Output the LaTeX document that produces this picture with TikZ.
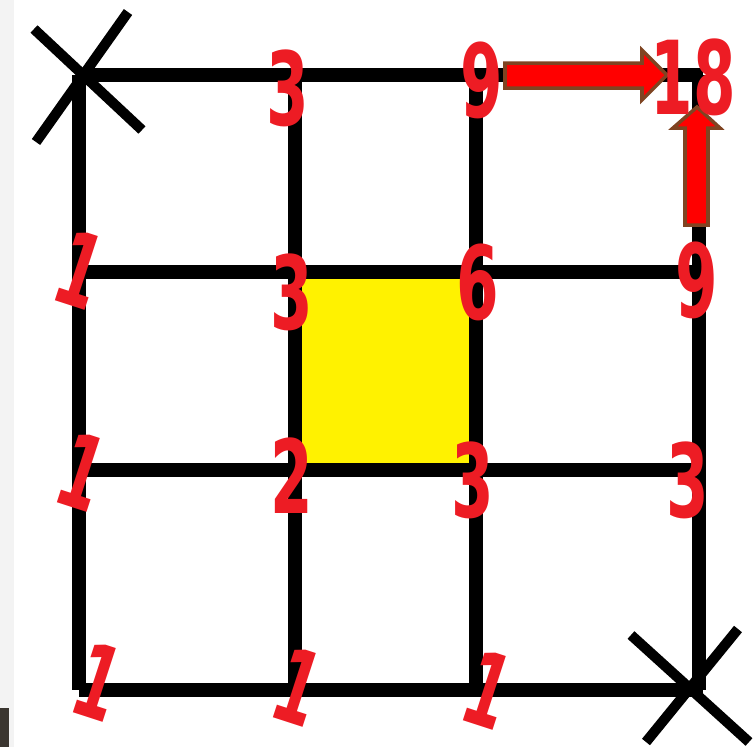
\documentclass[tikz,border=0pt]{standalone}
\usepackage{fontspec}
\usepackage{graphicx}
\usetikzlibrary{calc}
\setmainfont{DejaVu Sans}
\definecolor{paintred}{HTML}{ED1C24}
\definecolor{arrowred}{HTML}{FF0000}
\definecolor{arrowbrown}{HTML}{7F4422}
\definecolor{cellyellow}{HTML}{FFF200}
\definecolor{edgegray}{HTML}{F3F3F3}
\definecolor{edgedark}{HTML}{3B3630}

\newcommand{\hand}[1]{\scalebox{0.6}[1]{\bfseries #1}}

\begin{document}
\begin{tikzpicture}[x=0.01cm, y=-0.01cm,
    gridline/.style={line width=4pt, black},
    cross/.style={line width=2.9pt, black},
    num/.style={text=paintred, inner sep=0pt, font=\fontsize{29}{29}\selectfont},
    one/.style={num, rotate=-18},
    blockarrow/.style={fill=arrowred, draw=arrowbrown, line width=1pt, line join=miter}]
        \useasboundingbox (0,0) rectangle (753,747);

        % page edge
        \fill [edgegray] (0,0) rectangle (14,747);
        \fill [edgedark] (0,708) rectangle (9,747);

        % blocked cell
        \fill [cellyellow] (295,272) rectangle (476,470);

        % grid
        \foreach \x in {79,295,476,699}
            \draw [gridline] (\x,75) -- (\x,690);
        \foreach \y in {75,272,470,690}
            \draw [gridline] (79,\y) -- (703,\y);
        \draw [gridline] (72,272) -- (79,272);
        \draw [gridline] (72,470) -- (79,470);

        % start and end
        \coordinate (start) at (84,72);
        \coordinate (goal) at (691,687);
        \draw [cross] ($(start)+(-50,-43)$) -- ($(start)+(58,58)$);
        \draw [cross] ($(start)+(44,-60)$) -- ($(start)+(-48,70)$);
        \draw [cross] ($(goal)+(-60,-52)$) -- ($(goal)+(58,55)$);
        \draw [cross] ($(goal)+(47,-58)$) -- ($(goal)+(-45,55)$);

        % the two ways into 18
        \coordinate (htail) at (505,75);
        \coordinate (vtail) at (697,225);
        \draw [blockarrow]
            ($(htail)+(0,-12)$) -- (642,63) -- (642,50) -- (667,75)
            -- (642,100) -- (642,88) -- ($(htail)+(0,13)$) -- cycle;
        \draw [blockarrow]
            ($(vtail)+(-12,0)$) -- (685,128) -- (673,128) -- (697,107)
            -- (720,128) -- (708,128) -- ($(vtail)+(11,0)$) -- cycle;

        % path counts
        \node [num] (n01) at (288,88) {\hand{3}};
        \node [num] (n02) at (482,80) {\hand{9}};
        \node [num] (n03) at (693,77) {\hand{18}};
        \node [one] (n10) at (80,270) {\hand{1}};
        \node [num] (n11) at (292,292) {\hand{3}};
        \node [num] (n12) at (478,282) {\hand{6}};
        \node [num] (n13) at (697,280) {\hand{9}};
        \node [one] (n20) at (82,472) {\hand{1}};
        \node [num] (n21) at (292,476) {\hand{2}};
        \node [num] (n22) at (473,480) {\hand{3}};
        \node [num] (n23) at (688,480) {\hand{3}};
        \node [one] (n30) at (98,682) {\hand{1}};
        \node [one] (n31) at (298,687) {\hand{1}};
        \node [one] (n32) at (488,690) {\hand{1}};
\end{tikzpicture}
\end{document}
